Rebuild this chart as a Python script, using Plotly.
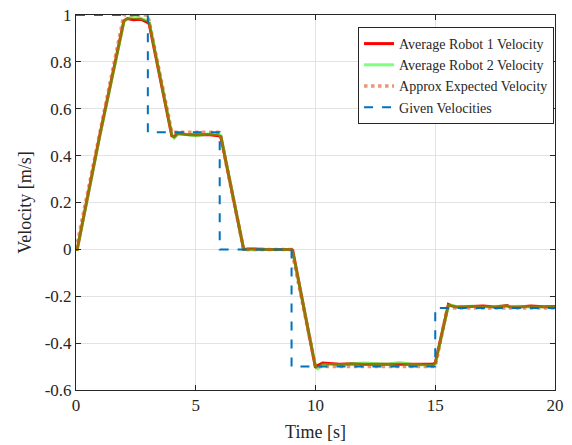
import plotly.graph_objects as go

# Commanded step velocities
t_given = [0, 3, 3, 6, 6, 9, 9, 15, 15, 20]
v_given = [1.0, 1.0, 0.5, 0.5, 0.0, 0.0, -0.5, -0.5, -0.25, -0.25]

# Approximate expected velocity (acceleration-limited profile)
t_expected = [0, 2, 3, 4, 6, 7, 9, 10, 15, 15.5, 20]
v_expected = [0.0, 1.0, 1.0, 0.5, 0.5, 0.0, 0.0, -0.5, -0.5, -0.25, -0.25]

# Averaged measured velocities
t_robot1 = [0, 0.05, 1.0, 2.0, 2.15, 2.4, 2.7, 2.95, 3.05, 4.0, 4.1, 4.25, 4.6, 5.0, 5.5,
            5.95, 6.05, 7.0, 7.2, 8.0, 9.0, 9.05, 10.0, 10.1, 10.3, 11.0, 11.5, 12.0, 13.0,
            13.5, 14.0, 14.9, 15.0, 15.55, 15.65, 15.9, 16.5, 17.0, 17.5, 18.0, 18.1, 18.5,
            19.0, 19.5, 20.0]
v_robot1 = [0.0, 0.0, 0.49, 0.975, 0.985, 0.98, 0.982, 0.972, 0.965, 0.485, 0.48, 0.495,
            0.49, 0.488, 0.49, 0.485, 0.48, 0.0, 0.002, 0.0, 0.0, -0.005, -0.505, -0.495,
            -0.485, -0.49, -0.488, -0.49, -0.49, -0.487, -0.49, -0.49, -0.485, -0.235,
            -0.24, -0.246, -0.244, -0.242, -0.246, -0.24, -0.245, -0.246, -0.242, -0.245,
            -0.244]

t_robot2 = [0, 0.05, 1.0, 2.0, 2.15, 2.4, 2.7, 2.95, 3.05, 4.0, 4.1, 4.25, 4.6, 5.0, 5.5,
            5.95, 6.05, 7.0, 7.2, 8.0, 9.0, 9.05, 10.0, 10.1, 10.3, 11.0, 11.5, 12.0, 13.0,
            13.5, 14.0, 14.9, 15.0, 15.55, 15.65, 15.9, 16.5, 17.0, 17.5, 18.0, 18.1, 18.5,
            19.0, 19.5, 20.0]
v_robot2 = [0.0, 0.0, 0.485, 0.97, 0.985, 0.99, 0.985, 0.98, 0.975, 0.49, 0.475, 0.49,
            0.49, 0.485, 0.492, 0.49, 0.485, 0.0, -0.002, 0.0, 0.0, -0.01, -0.5, -0.51,
            -0.49, -0.492, -0.49, -0.485, -0.49, -0.483, -0.49, -0.495, -0.49, -0.24,
            -0.238, -0.245, -0.243, -0.246, -0.244, -0.242, -0.245, -0.243, -0.246, -0.244,
            -0.245]

y_ticks = [1, 0.8, 0.6, 0.4, 0.2, 0, -0.2, -0.4, -0.6]
y_labels = ["1", "0.8", "0.6", "0.4", "0.2", "0", "-0.2", "-0.4", "-0.6"]
x_ticks = [0, 5, 10, 15, 20]
x_labels = ["0", "5", "10", "15", "20"]

serif = "Liberation Serif"
ink = "#262626"

fig = go.Figure()
fig.add_trace(go.Scatter(x=t_robot1, y=v_robot1, mode="lines", name="Average Robot 1 Velocity",
                         line=dict(color="rgb(255,0,0)", width=3)))
fig.add_trace(go.Scatter(x=t_robot2, y=v_robot2, mode="lines", name="Average Robot 2 Velocity",
                         line=dict(color="rgba(0,255,0,0.5)", width=3)))
fig.add_trace(go.Scatter(x=t_expected, y=v_expected, mode="lines", name="Approx Expected Velocity",
                         line=dict(color="rgba(217,83,25,0.6)", width=3.5, dash="dot")))
fig.add_trace(go.Scatter(x=t_given, y=v_given, mode="lines", name="Given Velocities",
                         line=dict(color="rgb(0,114,189)", width=2, dash="dash")))

axis_common = dict(
    automargin=False,
    showgrid=True, gridcolor="#e3e3e3", gridwidth=1,
    showline=True, linecolor=ink, linewidth=1, mirror="ticks",
    ticks="inside", ticklen=5, tickcolor=ink, tickwidth=1,
    zeroline=False,
    tickfont=dict(family=serif, size=17, color=ink),
)

fig.update_layout(
    width=572, height=445,
    margin=dict(l=76, r=17, t=15, b=55),
    paper_bgcolor="white", plot_bgcolor="white",
    font=dict(family=serif, color=ink),
    showlegend=True,
    legend=dict(
        x=0.998, y=0.968, xanchor="right", yanchor="top",
        bgcolor="white", bordercolor=ink, borderwidth=1,
        font=dict(family=serif, size=14, color=ink),
        tracegroupgap=0,
    ),
    xaxis=dict(range=[0, 20], tickvals=x_ticks, ticktext=x_labels,
               title=dict(text="Time [s]", font=dict(family=serif, size=18, color=ink),
                          standoff=10),
               **axis_common),
    yaxis=dict(range=[-0.6, 1], tickvals=y_ticks, ticktext=y_labels,
               title=dict(text="Velocity [m/s]", font=dict(family=serif, size=18, color=ink),
                          standoff=8),
               **axis_common),
)

fig.write_html("out.html")
